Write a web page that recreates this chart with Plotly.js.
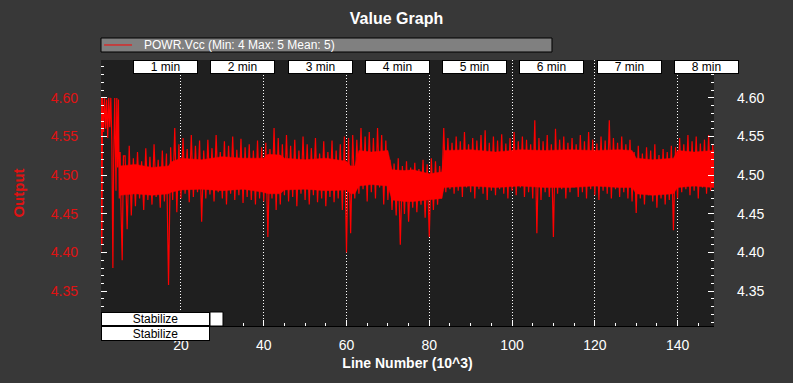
<!DOCTYPE html>
<html><head><meta charset="utf-8">
<script src="https://cdn.plot.ly/plotly-3.0.1.min.js"></script>
<style>
html,body{margin:0;padding:0;background:#383838;}
#chart{width:793px;height:383px;outline:1px solid #141414;outline-offset:-1px;}
</style>
</head><body><div id="chart"></div>
<script>
// ---- data (line number in thousands, POWR.Vcc volts) ----
const startupK = [0.62, 0.75, 0.9, 1.05, 1.3, 1.55, 1.8, 2.05, 2.3, 2.55, 2.8, 3.05, 3.3, 3.55, 3.75, 4.0, 4.3, 4.5, 4.7, 4.9, 5.1, 5.3, 5.5, 5.8, 6.1];
const startupVcc = [4.400, 4.600, 4.410, 4.600, 4.556, 4.600, 4.560, 4.598, 4.548, 4.600, 4.562, 4.600, 4.545, 4.380, 4.520, 4.600, 4.480, 4.600, 4.510, 4.598, 4.470, 4.530, 4.460, 4.390, 4.525];

// main run: one high and one low reading per thousand lines, from line 7k on
const mainStartK = 7;
const vccHigh = [
  4.525, 4.538, 4.522, 4.530, 4.518, 4.535, 4.524, 4.540, 4.520, 4.532,
  4.528, 4.536, 4.561, 4.540, 4.548, 4.534, 4.552, 4.538, 4.545, 4.532,
  4.546, 4.535, 4.552, 4.530, 4.544, 4.538, 4.550, 4.533, 4.547, 4.536,
  4.540, 4.532, 4.545, 4.536, 4.542, 4.534, 4.561, 4.548, 4.540, 4.552,
  4.538, 4.546, 4.532, 4.550, 4.540, 4.535, 4.548, 4.528, 4.544, 4.530,
  4.545, 4.532, 4.540, 4.550, 4.548, 4.552, 4.546, 4.561, 4.550, 4.556,
  4.548, 4.561, 4.552, 4.545, 4.520, 4.515, 4.522, 4.512, 4.518, 4.510,
  4.516, 4.508, 4.520, 4.514, 4.522, 4.518, 4.512, 4.561, 4.548, 4.542,
  4.550, 4.544, 4.556, 4.540, 4.548, 4.545, 4.552, 4.558, 4.542, 4.550,
  4.545, 4.553, 4.541, 4.548, 4.556, 4.544, 4.550, 4.546, 4.540, 4.571,
  4.548, 4.544, 4.552, 4.540, 4.560, 4.546, 4.550, 4.542, 4.548, 4.540,
  4.552, 4.544, 4.556, 4.546, 4.541, 4.550, 4.545, 4.571, 4.548, 4.542,
  4.550, 4.540, 4.546, 4.530, 4.538, 4.528, 4.536, 4.532, 4.540, 4.526,
  4.534, 4.530, 4.538, 4.536, 4.548, 4.540, 4.552, 4.544, 4.550, 4.541,
  4.546, 4.552, 4.540
];
const vccLow = [
  4.430, 4.448, 4.460, 4.470, 4.455, 4.468, 4.462, 4.472, 4.458, 4.466,
  4.358, 4.468, 4.452, 4.470, 4.476, 4.465, 4.472, 4.478, 4.440, 4.470,
  4.475, 4.466, 4.478, 4.470, 4.462, 4.476, 4.468, 4.474, 4.464, 4.472,
  4.468, 4.462, 4.470, 4.466, 4.420, 4.470, 4.455, 4.462, 4.474, 4.466,
  4.472, 4.460, 4.476, 4.468, 4.462, 4.474, 4.465, 4.470, 4.460, 4.472,
  4.465, 4.470, 4.455, 4.400, 4.425, 4.470, 4.476, 4.482, 4.466, 4.478,
  4.470, 4.484, 4.462, 4.468, 4.455, 4.448, 4.410, 4.450, 4.440, 4.458,
  4.452, 4.462, 4.445, 4.420, 4.455, 4.462, 4.470, 4.478, 4.482, 4.476,
  4.480, 4.472, 4.484, 4.478, 4.470, 4.482, 4.476, 4.468, 4.480, 4.474,
  4.482, 4.476, 4.470, 4.480, 4.474, 4.484, 4.472, 4.478, 4.470, 4.425,
  4.468, 4.478, 4.472, 4.420, 4.476, 4.482, 4.470, 4.478, 4.484, 4.472,
  4.478, 4.470, 4.482, 4.474, 4.468, 4.480, 4.476, 4.470, 4.482, 4.472,
  4.478, 4.470, 4.466, 4.451, 4.470, 4.462, 4.474, 4.466, 4.458, 4.470,
  4.462, 4.468, 4.429, 4.470, 4.478, 4.482, 4.474, 4.480, 4.470, 4.484,
  4.476, 4.480, 4.478
];

// dense core of the noise band (where readings overlap into a solid block)
const coreK      = [5.2, 9, 13, 17, 17.6, 20, 25, 30, 35, 40, 41, 44, 45, 50, 55, 60, 61, 62, 63, 66, 70, 71, 74, 76, 80, 83, 83.6, 90, 96, 102, 108, 114, 120, 126, 129, 130, 134, 139, 140, 144, 148.8];
const coreTop    = [4.512, 4.514, 4.510, 4.512, 4.517, 4.522, 4.520, 4.524, 4.522, 4.522, 4.527, 4.526, 4.522, 4.520, 4.522, 4.518, 4.512, 4.512, 4.532, 4.530, 4.532, 4.507, 4.506, 4.507, 4.502, 4.504, 4.532, 4.533, 4.530, 4.533, 4.532, 4.533, 4.532, 4.533, 4.532, 4.522, 4.520, 4.522, 4.532, 4.530, 4.532];
const coreBottom = [4.474, 4.476, 4.474, 4.476, 4.478, 4.481, 4.482, 4.480, 4.482, 4.478, 4.476, 4.476, 4.481, 4.482, 4.480, 4.481, 4.476, 4.476, 4.486, 4.488, 4.486, 4.468, 4.466, 4.466, 4.468, 4.470, 4.484, 4.486, 4.484, 4.486, 4.484, 4.484, 4.486, 4.484, 4.484, 4.476, 4.474, 4.476, 4.484, 4.486, 4.484];

const minuteLabels = ['1 min', '2 min', '3 min', '4 min', '5 min', '6 min', '7 min', '8 min'];
const minuteAtK = [16.25, 34.85, 53.7, 72.3, 90.9, 109.65, 128.4, 147.05];
const modeLabels = ['Stabilize', 'Stabilize'];
const seriesName = 'POWR.Vcc (Min: 4 Max: 5 Mean: 5)';

// ---- build traces ----
const lineK = startupK.slice();
const vcc = startupVcc.slice();
for (let i = 0; i < vccHigh.length; i++) {
  lineK.push(mainStartK + i - 0.5); vcc.push(vccHigh[i]);
  lineK.push(mainStartK + i);       vcc.push(vccLow[i]);
}
const bandK = coreK.concat(coreK.slice().reverse());
const bandV = coreTop.concat(coreBottom.slice().reverse());

const FONT = 'Liberation Sans, Arial, Helvetica, sans-serif';
const RED = '#e01212';
const WHITE = '#ffffff';

const traces = [
  {x: bandK, y: bandV, type: 'scatter', mode: 'lines', fill: 'toself',
   fillcolor: '#ff0000', line: {color: '#ff0000', width: 0.5}, hoverinfo: 'skip', showlegend: false},
  {x: lineK, y: vcc, type: 'scatter', mode: 'lines', name: seriesName,
   line: {color: '#ff0000', width: 1.2}, hoverinfo: 'skip', showlegend: false},
  {x: [lineK[0]], y: [vcc[0]], yaxis: 'y2', type: 'scatter', mode: 'markers',
   marker: {opacity: 0}, hoverinfo: 'skip', showlegend: false}
];

const yCommon = {
  range: [4.305, 4.649], tick0: 4.35, dtick: 0.05, tickformat: '.2f',
  ticks: 'inside', ticklen: 6, tickwidth: 1, tickcolor: WHITE,
  minor: {dtick: 0.01, ticks: 'inside', ticklen: 3, tickcolor: WHITE, tickwidth: 1, showgrid: false},
  showgrid: false, zeroline: false, showline: false, fixedrange: true,
  ticklabelstandoff: 22
};

const annotations = [];
minuteLabels.forEach((t, i) => annotations.push({
  text: t, x: minuteAtK[i], xref: 'x', y: 1, yref: 'paper', yanchor: 'top', xanchor: 'center',
  showarrow: false, width: 63, height: 12, borderpad: 0, borderwidth: 1,
  bordercolor: '#000', bgcolor: '#ffffff', font: {family: FONT, size: 12, color: '#000'}
}));
annotations.push({
  text: modeLabels[0], x: 0, xref: 'paper', xanchor: 'left', y: 0, yref: 'paper', yanchor: 'bottom',
  showarrow: false, width: 107, height: 12, borderpad: 0, borderwidth: 1,
  bordercolor: '#000', bgcolor: '#ffffff', font: {family: FONT, size: 12, color: '#000'}
});
annotations.push({
  text: modeLabels[1], x: 0, xref: 'paper', xanchor: 'left', y: 0, yref: 'paper', yanchor: 'top',
  showarrow: false, width: 107, height: 13, borderpad: 0, borderwidth: 1,
  bordercolor: '#000', bgcolor: '#ffffff', font: {family: FONT, size: 12, color: '#000'}
});
annotations.push({
  text: seriesName, x: 0.0669, xref: 'paper', xanchor: 'left', y: 1.0564, yref: 'paper', yanchor: 'middle',
  showarrow: false, font: {family: FONT, size: 12, color: WHITE}
});

const layout = {
  width: 793, height: 383,
  margin: {l: 101, r: 79, t: 60, b: 57},
  paper_bgcolor: '#383838', plot_bgcolor: '#1f1f1f',
  font: {family: FONT, color: WHITE, size: 14},
  title: {text: 'Value Graph', x: 0.5, xref: 'container', xanchor: 'center',
          y: 0.952, yref: 'container', yanchor: 'middle',
          font: {family: FONT, size: 16, color: WHITE, weight: 'bold'}},
  showlegend: false,
  xaxis: {
    range: [0.68, 148.8], tick0: 0, dtick: 20,
    ticks: 'inside', ticklen: 6, tickwidth: 1, tickcolor: WHITE,
    minor: {dtick: 5, ticks: 'inside', ticklen: 3, tickcolor: WHITE, tickwidth: 1, showgrid: false},
    showgrid: true, gridcolor: WHITE, gridwidth: 1, griddash: '1px,2px',
    showline: true, linecolor: '#000', linewidth: 1, zeroline: false, fixedrange: true,
    tickfont: {family: FONT, size: 14, color: WHITE}, ticklabelstandoff: 6,
    title: {text: 'Line Number (10^3)', standoff: 6, font: {family: FONT, size: 14, color: WHITE, weight: 'bold'}}
  },
  yaxis: Object.assign({}, yCommon, {
    side: 'left',
    tickfont: {family: FONT, size: 14, color: RED},
    title: {text: 'Output', standoff: 22, font: {family: FONT, size: 15, color: RED, weight: 'bold'}}
  }),
  yaxis2: Object.assign({}, yCommon, {
    overlaying: 'y', side: 'right', anchor: 'x',
    tickfont: {family: FONT, size: 14, color: WHITE}
  }),
  shapes: [
    {type: 'rect', xref: 'paper', yref: 'paper', x0: 0, x1: 0.7357, y0: 1.0301, y1: 1.0827,
     fillcolor: '#808080', line: {color: '#000', width: 1}, layer: 'above'},
    {type: 'line', xref: 'paper', yref: 'paper', x0: 0.005, x1: 0.0506, y0: 1.0564, y1: 1.0564,
     line: {color: '#ff0000', width: 1}, layer: 'above'},
    {type: 'rect', xref: 'paper', yref: 'paper', x0: 0.1778, x1: 0.199, y0: 0, y1: 0.0526,
     fillcolor: '#ffffff', line: {color: '#000', width: 1}, layer: 'above'}
  ],
  annotations: annotations
};

Plotly.newPlot('chart', traces, layout, {staticPlot: true, displayModeBar: false});
</script>
</body></html>
